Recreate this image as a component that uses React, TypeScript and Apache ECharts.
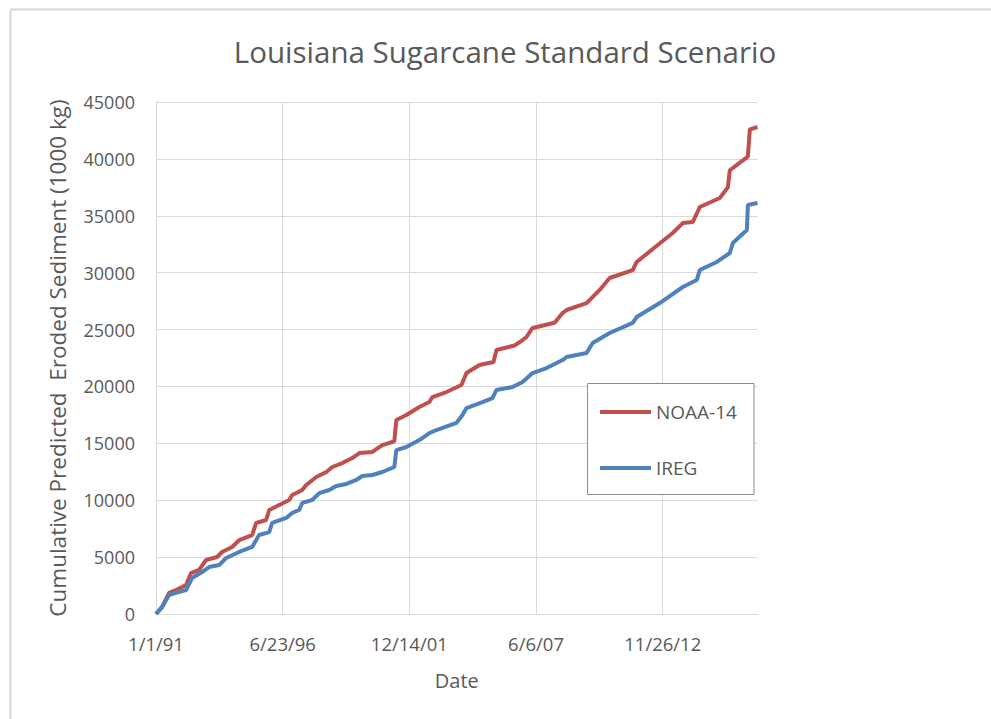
import React, { useEffect, useRef } from "react";
import * as echarts from "echarts";

// x values: days since 1/1/91
const noaaDays = [0, 95, 206, 316, 474, 553, 680, 791, 964, 1043, 1202, 1312, 1518, 1581, 1739, 1787, 1945, 2103, 2150, 2308, 2372, 2530, 2688, 2783, 2941, 3099, 3209, 3415, 3573, 3731, 3763, 3794, 3953, 4158, 4316, 4364, 4585, 4822, 4901, 5107, 5328, 5375, 5660, 5771, 5850, 5945, 6292, 6419, 6482, 6798, 7004, 7162, 7526, 7589, 7921, 8158, 8316, 8474, 8585, 8901, 9028, 9059, 9344, 9375, 9496];
const noaaValues = [0, 600, 1850, 2100, 2550, 3600, 3870, 4750, 5010, 5450, 5890, 6500, 6940, 8000, 8260, 9140, 9580, 10020, 10460, 10900, 11340, 12040, 12480, 12920, 13270, 13710, 14150, 14240, 14850, 15120, 15200, 17050, 17490, 18190, 18630, 19070, 19510, 20130, 21180, 21880, 22150, 23200, 23600, 24000, 24350, 25140, 25600, 26450, 26720, 27330, 28480, 29530, 30230, 30940, 32430, 33490, 34360, 34450, 35770, 36560, 37500, 39000, 40200, 42600, 42800];

const iregDays = [0, 95, 206, 316, 474, 569, 727, 838, 996, 1107, 1312, 1518, 1628, 1787, 1834, 2055, 2150, 2261, 2308, 2466, 2577, 2735, 2846, 3004, 3162, 3257, 3415, 3573, 3763, 3794, 3953, 4158, 4316, 4427, 4743, 4838, 4901, 5154, 5312, 5375, 5628, 5787, 5945, 6166, 6419, 6482, 6798, 6893, 7162, 7526, 7589, 7953, 8316, 8537, 8585, 8854, 9059, 9107, 9328, 9344, 9496];
const iregValues = [0, 600, 1670, 1850, 2100, 3160, 3690, 4130, 4300, 4920, 5450, 5890, 6940, 7200, 8000, 8440, 8880, 9140, 9760, 10020, 10630, 10900, 11250, 11430, 11780, 12130, 12220, 12480, 12920, 14410, 14680, 15290, 15900, 16170, 16790, 17490, 18100, 18630, 18980, 19690, 19950, 20390, 21180, 21620, 22320, 22590, 22940, 23820, 24700, 25580, 26100, 27330, 28740, 29350, 30230, 30940, 31730, 32610, 33750, 35950, 36120];

const seriesNames = ["NOAA-14", "IREG"];
const titleText = "Louisiana Sugarcane Standard Scenario";
const xAxisName = "Date";
const yAxisName = "Cumulative Predicted  Eroded Sediment (1000 kg)";

const BASE = Date.UTC(1991, 0, 1);
const DAY = 86400000;
const X_MAX = 9496;
const X_STEP = 2000;

function fmtDate(d: number): string {
  const t = new Date(BASE + d * DAY);
  const yy = String(t.getUTCFullYear() % 100).padStart(2, "0");
  return `${t.getUTCMonth() + 1}/${t.getUTCDate()}/${yy}`;
}

const FONT = "'Open Sans', 'Noto Sans', sans-serif";
const TXT = "#595959";
const GRID = "#d9d9d9";

export default function App() {
  const ref = useRef<HTMLDivElement>(null);
  useEffect(() => {
    if (!ref.current) return;
    const chart = echarts.init(ref.current, undefined, { renderer: "svg" });
    const pair = (xs: number[], ys: number[]) => xs.map((x, i) => [x, ys[i]]);
    chart.setOption({
      animation: false,
      backgroundColor: "#ffffff",
      textStyle: { fontFamily: FONT },
      grid: { left: 156, top: 102, width: 601.5, height: 512, containLabel: false },
      graphic: [
        { type: "line", shape: { x1: 10.5, y1: 9.5, x2: 991, y2: 9.5 }, style: { stroke: "#d6d6d6", lineWidth: 2 }, z: 1 },
        { type: "line", shape: { x1: 10.5, y1: 9.5, x2: 10.5, y2: 719 }, style: { stroke: "#d6d6d6", lineWidth: 2 }, z: 1 },
        {
          type: "text",
          x: 505,
          y: 51,
          style: { text: titleText, fill: TXT, font: `29.5px ${FONT}`, align: "center", verticalAlign: "middle" },
          z: 5,
        },
        {
          type: "rect",
          shape: { x: 587.5, y: 383.5, width: 166.5, height: 111 },
          style: { fill: "#ffffff", stroke: "#8c8c8c", lineWidth: 1 },
          z: 10,
        },
      ],
      legend: {
        orient: "vertical",
        left: 600,
        top: 401,
        padding: 0,
        itemGap: 34,
        itemWidth: 51,
        itemHeight: 4,
        icon: "rect",
        z: 12,
        textStyle: { fontFamily: FONT, fontSize: 19, color: TXT, lineHeight: 22 },
        data: seriesNames,
      },
      xAxis: {
        type: "value",
        min: 0,
        max: X_MAX,
        interval: X_STEP,
        name: xAxisName,
        nameLocation: "middle",
        nameGap: 56,
        nameTextStyle: { fontFamily: FONT, fontSize: 20, color: TXT },
        axisLine: { show: true, lineStyle: { color: GRID, width: 1 } },
        axisTick: { show: false },
        axisLabel: {
          show: true,
          margin: 20,
          fontFamily: FONT,
          fontSize: 18.5,
          color: TXT,
          showMaxLabel: false,
          formatter: (v: number) => (v % X_STEP === 0 ? fmtDate(v) : ""),
        },
        splitLine: { show: true, showMaxLine: false, lineStyle: { color: GRID, width: 1 } },
      },
      yAxis: {
        type: "value",
        min: 0,
        max: 45000,
        interval: 5000,
        name: yAxisName,
        nameLocation: "middle",
        nameGap: 87,
        nameRotate: 90,
        nameTextStyle: { fontFamily: FONT, fontSize: 22.5, color: TXT },
        axisLine: { show: false },
        axisTick: { show: false },
        axisLabel: { margin: 21, fontFamily: FONT, fontSize: 18, color: TXT, formatter: (v: number) => String(v) },
        splitLine: { show: true, lineStyle: { color: GRID, width: 1 } },
      },
      series: [
        {
          name: seriesNames[0],
          type: "line",
          data: pair(noaaDays, noaaValues),
          showSymbol: false,
          symbol: "none",
          color: "#C0504D",
          lineStyle: { color: "#C0504D", width: 4 },
          z: 3,
        },
        {
          name: seriesNames[1],
          type: "line",
          data: pair(iregDays, iregValues),
          showSymbol: false,
          symbol: "none",
          color: "#4F81BD",
          lineStyle: { color: "#4F81BD", width: 4 },
          z: 3,
        },
      ],
    });
    return () => chart.dispose();
  }, []);
  return <div ref={ref} style={{ position: "fixed", left: 0, top: 0, width: 991, height: 719 }} />;
}
